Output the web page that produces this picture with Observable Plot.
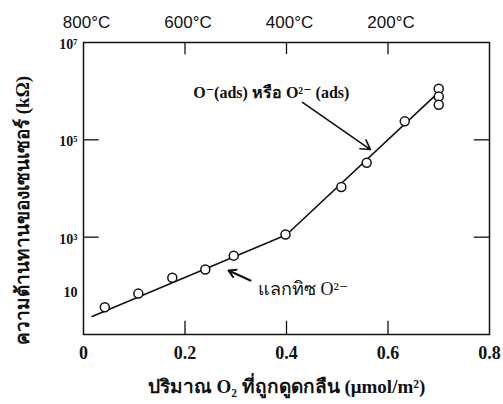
<!DOCTYPE html>
<html><head><meta charset="utf-8">
<script src="https://cdn.jsdelivr.net/npm/d3@7"></script>
<script src="https://cdn.jsdelivr.net/npm/@observablehq/plot@0.6"></script>
<style>
body{margin:0;background:#fff;}
#chart{position:relative;width:503px;height:404px;}
</style>
</head><body><div id="chart"></div>
<script>
// data
const pointsX = [0.042, 0.108, 0.175, 0.240, 0.296, 0.398, 0.508, 0.558, 0.633, 0.700, 0.700, 0.700];
const pointsLogY = [1.56, 1.84, 2.165, 2.336, 2.62, 3.055, 4.03, 4.53, 5.38, 6.05, 5.89, 5.72];
const lineX = [0.017, 0.4, 0.697];
const lineLogY = [1.37, 3.05, 5.95];
const xTicks = [0.2, 0.4, 0.6];
const xTickLabels = ["0", "0.2", "0.4", "0.6", "0.8"];
const xTickLabelValues = [0, 0.2, 0.4, 0.6, 0.8];
const tempLabels = ["800°C", "600°C", "400°C", "200°C"];
const tempValues = [0, 0.2, 0.4, 0.6];
const yTicks = [1e3, 1e5];
const yLabelValues = [80, 1e3, 1e5, 1e7];
const yLabels = ["10", "10³", "10⁵", "10⁷"];
const xTitle = "ปริมาณ O₂ ที่ถูกดูดกลืน (μmol/m²)";
const yTitle = "ความต้านทานของเซนเซอร์ (kΩ)";
const ann1 = {text: "O⁻(ads) หรือ O²⁻ (ads)", x: 0.37, y: 10**5.97};
const ann1Arrow = {x1: 0.4315, y1: 10**5.77, x2: 0.5655, y2: 10**4.80};
const ann2 = {text: "แลกทิซ O²⁻", x: 0.344, y: 10**1.92};
const ann2Arrow = {x1: 0.329, y1: 10**2.11, x2: 0.2857, y2: 10**2.315};

const pts = pointsX.map((x, i) => ({x, y: 10 ** pointsLogY[i]}));
const line = lineX.map((x, i) => ({x, y: 10 ** lineLogY[i]}));
const serif = "'Liberation Serif', 'DejaVu Serif', serif";
const sans = "'Liberation Sans', Arial, sans-serif";

const chart = Plot.plot({
  width: 503, height: 404,
  marginLeft: 83, marginRight: 14, marginTop: 42, marginBottom: 70,
  style: {fontFamily: serif, background: "#fff", color: "#111"},
  x: {domain: [0, 0.8], axis: null},
  y: {type: "log", domain: [10, 1e7], axis: null},
  marks: [
    Plot.frame({stroke: "#111", strokeWidth: 1.5}),
    Plot.ruleX(xTicks, {x: d => d, y1: 10, y2: 10 ** 1.27, stroke: "#111", strokeWidth: 1.3}),
    Plot.ruleX(xTicks, {x: d => d, y1: 1e7, y2: 10 ** 6.75, stroke: "#111", strokeWidth: 1.3}),
    Plot.ruleY(yTicks, {y: d => d, x1: 0, x2: 0.031, stroke: "#111", strokeWidth: 1.3}),
    Plot.ruleY(yTicks, {y: d => d, x1: 0.8, x2: 0.77, stroke: "#111", strokeWidth: 1.3}),
    Plot.text(xTickLabelValues, {x: d => d, y: 10, dy: 19, text: (d, i) => xTickLabels[i], fontSize: 18, fontWeight: "bold"}),
    Plot.text(tempValues, {x: d => d, y: 1e7, dy: -20, dx: 3, text: (d, i) => tempLabels[i], fontSize: 17, fontFamily: sans}),
    Plot.text(yLabelValues, {x: 0, y: d => d, dx: -6, dy: 2, textAnchor: "end", text: (d, i) => yLabels[i], fontSize: 14, fontWeight: "bold"}),
    Plot.line(line, {x: "x", y: "y", stroke: "#111", strokeWidth: 1.6}),
    Plot.dot(pts, {x: "x", y: "y", r: 4.5, stroke: "#111", strokeWidth: 1.5, fill: "#fff"}),
    Plot.arrow([ann1Arrow], {x1: "x1", y1: "y1", x2: "x2", y2: "y2", stroke: "#111", strokeWidth: 1.6, headLength: 10}),
    Plot.arrow([ann2Arrow], {x1: "x1", y1: "y1", x2: "x2", y2: "y2", stroke: "#111", strokeWidth: 2, headLength: 10}),
    Plot.text([ann1], {x: "x", y: "y", text: "text", fontSize: 16, fontWeight: "bold"}),
    Plot.text([ann2], {x: "x", y: "y", text: "text", textAnchor: "start", fontSize: 18}),
    Plot.text([xTitle], {x: 0.4, y: 10, dy: 52, text: d => d, fontSize: 19, fontWeight: "bold"}),
    Plot.text([yTitle], {x: 0, y: 10 ** 3.55, dx: -61, rotate: -90, text: d => d, fontSize: 19, fontWeight: "bold"})
  ]
});
document.getElementById("chart").append(chart);
</script>
</body></html>
